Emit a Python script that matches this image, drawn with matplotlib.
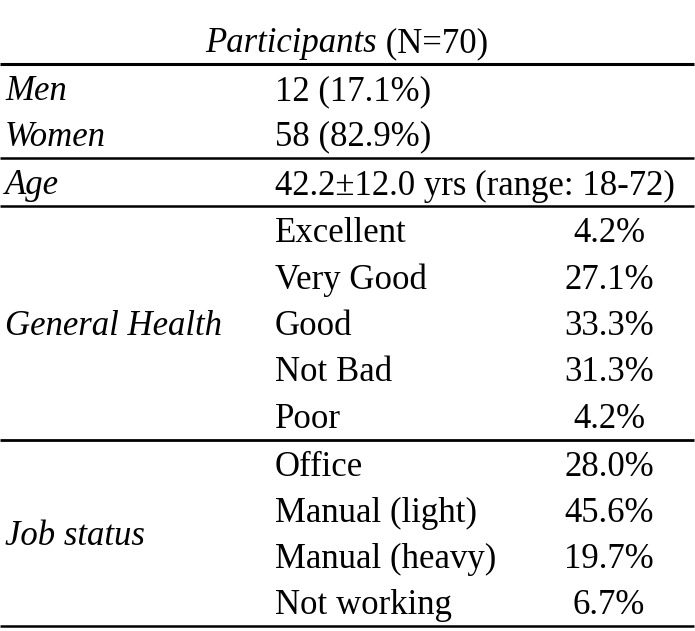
import matplotlib.pyplot as plt

header = "Participants"
header_n = " (N=70)"
sex_labels = ["Men", "Women"]
sex_values = ["12 (17.1%)", "58 (82.9%)"]
age_label = "Age"
age_value = "42.2\u00b112.0 yrs (range: 18-72)"
health_label = "General Health"
health_cats = ["Excellent", "Very Good", "Good", "Not Bad", "Poor"]
health_pct = ["4.2%", "27.1%", "33.3%", "31.3%", "4.2%"]
job_label = "Job status"
job_cats = ["Office", "Manual (light)", "Manual (heavy)", "Not working"]
job_pct = ["28.0%", "45.6%", "19.7%", "6.7%"]

plt.rcParams['font.family'] = ['Liberation Serif', 'DejaVu Serif']
fs = 25

fig = plt.figure(figsize=(6.95, 6.31), dpi=100)
ax = fig.add_axes([0, 0, 1, 1])
ax.set_xlim(0, 695)
ax.set_ylim(631, 0)
ax.axis('off')

x0, x1, x2 = 5, 275, 609
row_h = 46.3
kw = dict(fontsize=fs, va='center_baseline')

# header, centred as a whole
t = ax.text(0, 40, header, style='italic', **kw)
t2 = ax.annotate(header_n, xy=(1, 0), xycoords=t, fontsize=fs, va='bottom', ha='left')
fig.canvas.draw()
w = t.get_window_extent().width + t2.get_window_extent().width
t.set_x(347 - w / 2)

y = 88
for lab, val in zip(sex_labels, sex_values):
    ax.text(x0, y, lab, style='italic', **kw)
    ax.text(x1, y, val, **kw)
    y += 45

ax.text(x0, 182, age_label, style='italic', **kw)
ax.text(x1, 182, age_value, **kw)

ys = [230 + i * row_h for i in range(len(health_cats))]
for yy, c, p in zip(ys, health_cats, health_pct):
    ax.text(x1, yy, c, **kw)
    ax.text(x2, yy, p, ha='center', **kw)
ax.text(x0, sum(ys) / len(ys), health_label, style='italic', **kw)

ys = [463 + i * row_h for i in range(len(job_cats))]
for yy, c, p in zip(ys, job_cats, job_pct):
    ax.text(x1, yy, c, **kw)
    ax.text(x2, yy, p, ha='center', **kw)
ax.text(x0, sum(ys) / len(ys), job_label, style='italic', **kw)

for yl, lw in [(64, 2.2), (158, 1.8), (206, 1.8), (440, 2.0), (626, 1.8)]:
    ax.plot([0, 694], [yl, yl], color='black', lw=lw, solid_capstyle='butt')

fig.savefig('out.png', dpi=100)
